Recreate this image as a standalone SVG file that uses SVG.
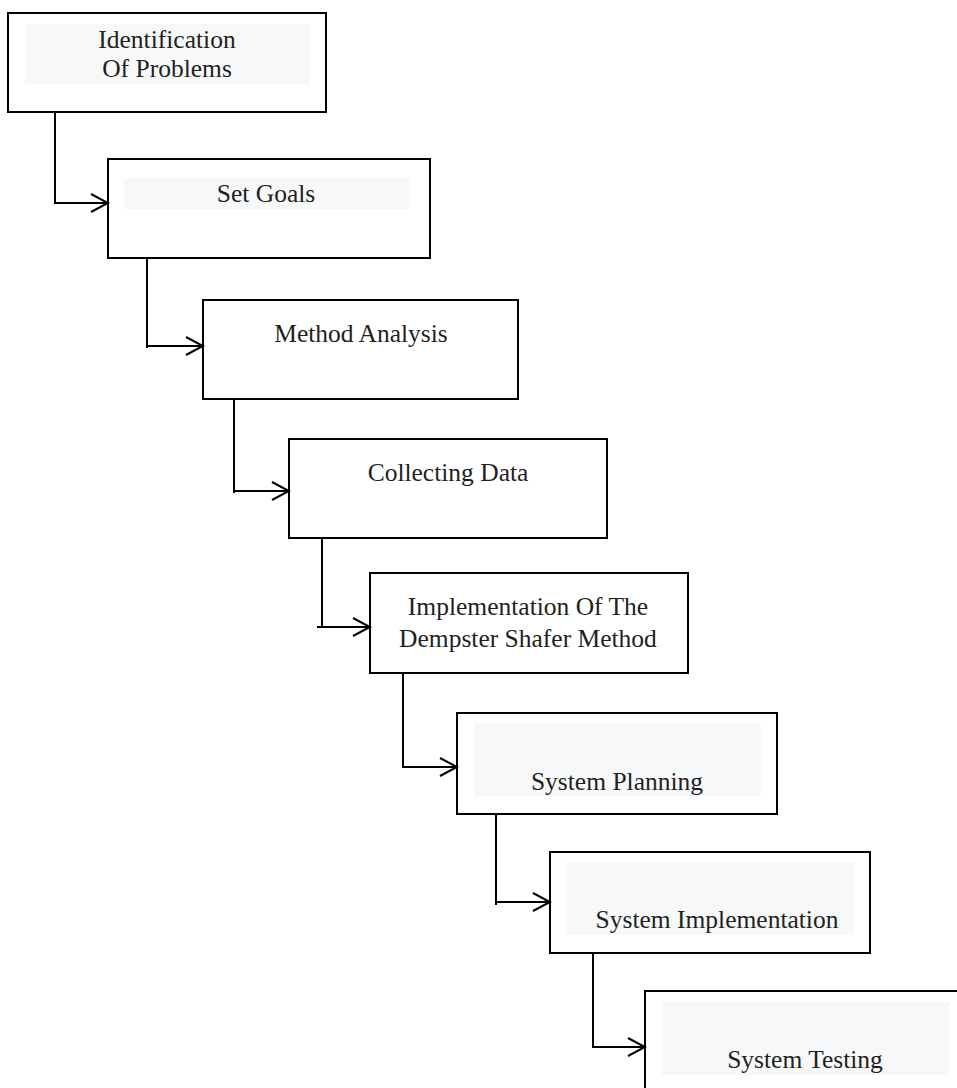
<svg xmlns="http://www.w3.org/2000/svg" width="957" height="1088" viewBox="0 0 957 1088">
<style>
.box{fill:#ffffff;stroke:#000;stroke-width:2}
.hl{fill:#f7f8fa}
.t{font-family:"Liberation Serif","Times New Roman",serif;font-size:25.5px;fill:#231f20;text-anchor:middle}
.c{fill:none;stroke:#000;stroke-width:2}
</style>
<defs>
<marker id="arr" markerWidth="20" markerHeight="22" refX="18" refY="10" orient="auto" markerUnits="userSpaceOnUse">
<path d="M1,1 L18,10 L1,19" fill="none" stroke="#000" stroke-width="2"/>
</marker>
</defs>
<rect x="0" y="0" width="957" height="1088" fill="#fff"/>
<g id="n1"><rect class="box" x="8" y="13" width="318" height="99"/><rect class="hl" x="25" y="24" width="285" height="60"/><text class="t" x="167" y="48">Identification</text><text class="t" x="167" y="77">Of Problems</text></g>
<g id="n2"><rect class="box" x="108" y="159" width="322" height="99"/><rect class="hl" x="124" y="178" width="285" height="31"/><text class="t" x="266" y="202">Set Goals</text></g>
<g id="n3"><rect class="box" x="203" y="300" width="315" height="99"/><text class="t" x="361" y="342">Method Analysis</text></g>
<g id="n4"><rect class="box" x="289" y="439" width="318" height="99"/><text class="t" x="448" y="481">Collecting Data</text></g>
<g id="n5"><rect class="box" x="370" y="573" width="318" height="100"/><text class="t" x="528" y="615">Implementation Of The</text><text class="t" x="528" y="647">Dempster Shafer Method</text></g>
<g id="n6"><rect class="box" x="457" y="713" width="320" height="101"/><rect class="hl" x="474" y="723" width="287" height="73"/><text class="t" x="617" y="790">System Planning</text></g>
<g id="n7"><rect class="box" x="550" y="852" width="320" height="101"/><rect class="hl" x="567" y="862" width="287" height="73"/><text class="t" x="717" y="928">System Implementation</text></g>
<g id="n8"><rect class="box" x="645" y="991" width="330" height="110"/><rect class="hl" x="662" y="1002" width="287" height="73"/><text class="t" x="805" y="1068">System Testing</text></g>
<g id="connectors">
<path class="c" d="M55,112 V203 H108" marker-end="url(#arr)"/>
<path class="c" d="M147,258 V348 M147,346 H203" marker-end="url(#arr)"/>
<path class="c" d="M234,399 V493 M234,491 H289" marker-end="url(#arr)"/>
<path class="c" d="M322,538 V627 M317,627 H370" marker-end="url(#arr)"/>
<path class="c" d="M403,673 V767 H457" marker-end="url(#arr)"/>
<path class="c" d="M496,814 V905 M496,902 H550" marker-end="url(#arr)"/>
<path class="c" d="M593,953 V1047 H645" marker-end="url(#arr)"/>
</g>
</svg>
